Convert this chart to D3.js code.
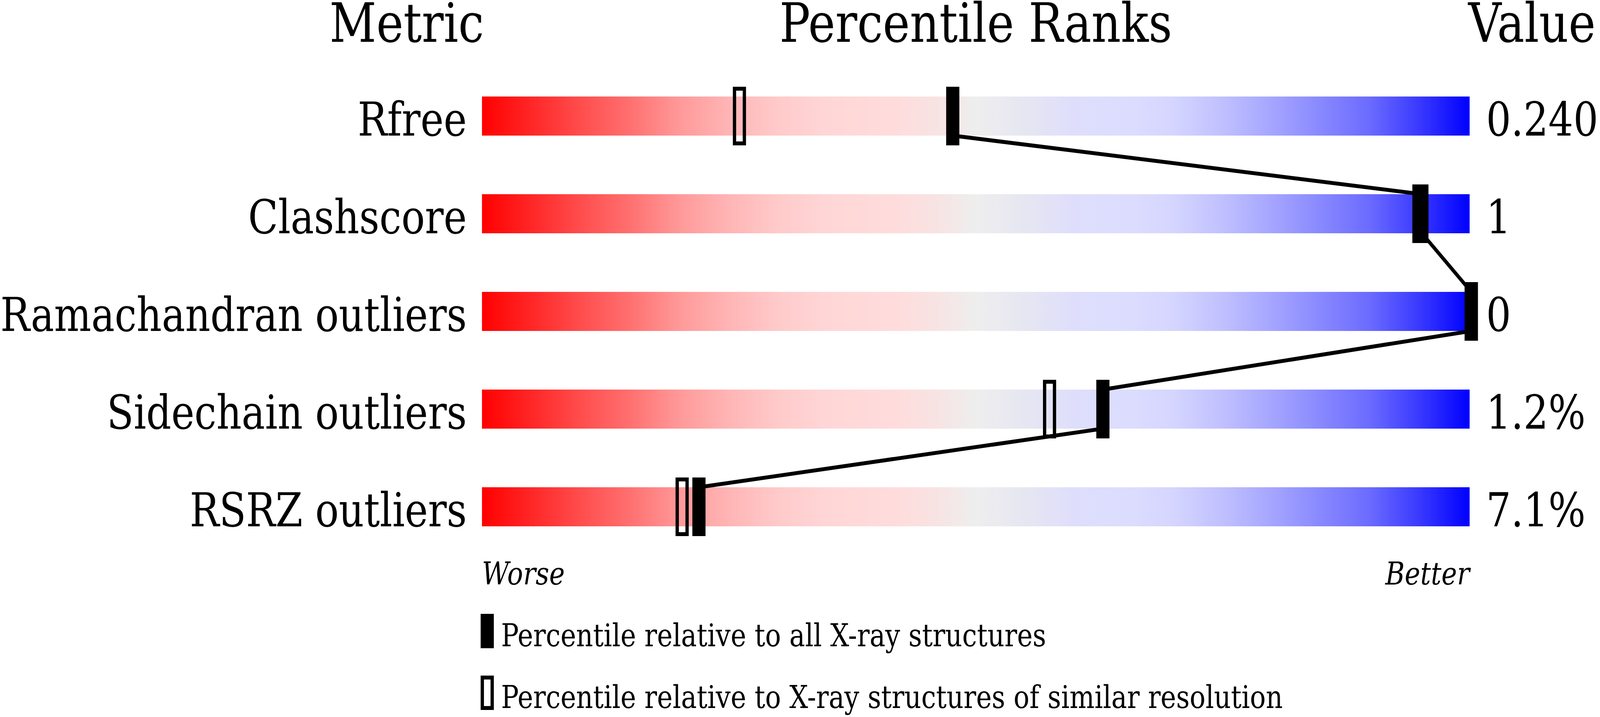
<!DOCTYPE html>
<html>
<head>
<meta charset="utf-8">
<script src="https://cdn.jsdelivr.net/npm/d3@7"></script>
<style>
  html, body { margin: 0; padding: 0; width: 100%; height: 100%; overflow: hidden; background: #fff; }
  svg { display: block; width: 100vw; height: 100vh; font-family: "DejaVu Serif", serif; }
</style>
</head>
<body>
<svg id="canvas" viewBox="0 0 4860 1835" preserveAspectRatio="none"></svg>
<script>
const width = 4860;
const height = 1835;

const metrics = ["Rfree", "Clashscore", "Ramachandran outliers", "Sidechain outliers", "RSRZ outliers"];
const values = ["0.240", "1", "0", "1.2%", "7.1%"];
const pctAll = [47.5, 95.0, 100, 62.7, 21.8];      // relative to all X-ray structures
const pctSimilar = [25.9, 94.7, 100, 57.3, 20.1];  // relative to similar resolution
const legendLabels = [
    "Percentile relative to all X-ray structures",
    "Percentile relative to X-ray structures of similar resolution"
];

const svg = d3.select("#canvas");

const x = d3.scaleLinear().domain([0, 100]).range([1464, 4464]);
const y = d3.scaleBand().domain(metrics).range([247, 1347]).paddingInner(0.6);

const markerOffset = 5;
const mx = p => x(p) + markerOffset;

// gradient for the bars
const stops = [
    [0, "#ff0000"], [0.10, "#ff4d4d"], [0.15, "#ff7070"], [0.20, "#ff9999"],
    [0.25, "#ffb5b5"], [0.30, "#ffcaca"], [0.35, "#ffd6d6"], [0.42, "#ffdcdc"],
    [0.46, "#f8e3e3"], [0.50, "#eeeeee"], [0.55, "#e6e6f2"], [0.60, "#dedefc"],
    [0.66, "#dcdcff"], [0.70, "#d5d5ff"], [0.75, "#c0c0ff"], [0.80, "#a5a5ff"],
    [0.85, "#8888ff"], [0.90, "#6a6aff"], [0.95, "#3838ff"], [1, "#0000ff"]
];
const grad = svg.append("defs").append("linearGradient")
    .attr("id", "slider")
    .attr("x1", "0%").attr("x2", "100%").attr("y1", "0%").attr("y2", "0%");
grad.selectAll("stop").data(stops).enter().append("stop")
    .attr("offset", d => d[0])
    .attr("stop-color", d => d[1]);

svg.append("rect").attr("width", width).attr("height", height).attr("fill", "#fff");

// headers
const headY = 107;
svg.append("text").attr("x", 1470).attr("y", headY).attr("text-anchor", "end")
    .attr("font-size", 139).text("Metric");
svg.append("text").attr("x", (x(0) + x(100)) / 2).attr("y", headY).attr("text-anchor", "middle")
    .attr("font-size", 139).text("Percentile Ranks");
svg.append("text").attr("x", 4460).attr("y", headY).attr("text-anchor", "start")
    .attr("font-size", 139).text("Value");

// bars
svg.selectAll("rect.bar").data(metrics).enter().append("rect")
    .attr("class", "bar")
    .attr("x", x(0))
    .attr("y", d => y(d))
    .attr("width", x(100) - x(0))
    .attr("height", y.bandwidth())
    .attr("fill", "url(#slider)");

// row labels and values
svg.selectAll("text.metric").data(metrics).enter().append("text")
    .attr("class", "metric")
    .attr("x", x(0) - 46)
    .attr("y", d => y(d) + y.bandwidth())
    .attr("text-anchor", "end")
    .attr("font-size", 119)
    .text(d => d);

svg.selectAll("text.value").data(values).enter().append("text")
    .attr("class", "value")
    .attr("x", x(100) + 50)
    .attr("y", (d, i) => y(metrics[i]) + y.bandwidth())
    .attr("font-size", 119)
    .text(d => d);

// hollow markers (similar resolution)
svg.selectAll("rect.similar").data(pctSimilar).enter().append("rect")
    .attr("class", "similar")
    .attr("x", d => mx(d) - 15)
    .attr("y", (d, i) => y(metrics[i]) - 20)
    .attr("width", 30)
    .attr("height", y.bandwidth() + 40)
    .attr("fill", "none")
    .attr("stroke", "#000")
    .attr("stroke-width", 10);

// connecting line through the black markers
const pts = [];
pctAll.forEach((p, i) => {
    pts.push([mx(p), y(metrics[i])]);
    pts.push([mx(p), y(metrics[i]) + y.bandwidth()]);
});
svg.append("path")
    .attr("d", d3.line()(pts))
    .attr("fill", "none")
    .attr("stroke", "#000")
    .attr("stroke-width", 10)
    .attr("stroke-linejoin", "bevel");

// black markers (all structures)
svg.selectAll("rect.all").data(pctAll).enter().append("rect")
    .attr("class", "all")
    .attr("x", d => mx(d) - 15)
    .attr("y", (d, i) => y(metrics[i]) - 20)
    .attr("width", 30)
    .attr("height", y.bandwidth() + 40)
    .attr("fill", "#000")
    .attr("stroke", "#000")
    .attr("stroke-width", 10);

// worse / better
svg.append("text").attr("x", x(0)).attr("y", 1496)
    .attr("font-size", 80).attr("font-style", "italic").text("Worse");
svg.append("text").attr("x", x(100)).attr("y", 1496).attr("text-anchor", "end")
    .attr("font-size", 80).attr("font-style", "italic").text("Better");

// legend
const legY = [1571, 1729];
svg.selectAll("rect.leg").data(legendLabels).enter().append("rect")
    .attr("class", "leg")
    .attr("x", 1465)
    .attr("y", (d, i) => legY[i] + 5)
    .attr("width", 30)
    .attr("height", 78)
    .attr("fill", (d, i) => i === 0 ? "#000" : "none")
    .attr("stroke", "#000")
    .attr("stroke-width", 10);

svg.selectAll("text.leg").data(legendLabels).enter().append("text")
    .attr("class", "leg")
    .attr("x", 1522)
    .attr("y", (d, i) => legY[i] + 83)
    .attr("font-size", 80)
    .text(d => d);
</script>
</body>
</html>
